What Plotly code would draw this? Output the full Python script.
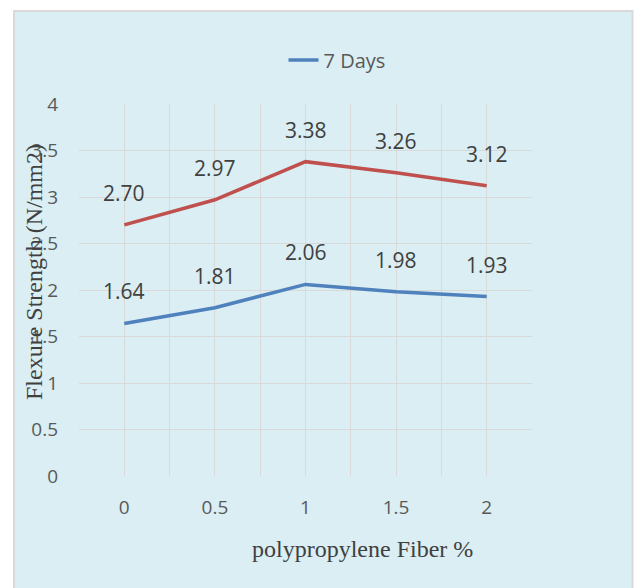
import plotly.graph_objects as go

fiber = [0, 0.5, 1, 1.5, 2]
days7 = [1.64, 1.81, 2.06, 1.98, 1.93]
days28 = [2.70, 2.97, 3.38, 3.26, 3.12]
xticks = [0, 0.5, 1, 1.5, 2]
yticks = [0, 0.5, 1, 1.5, 2, 2.5, 3, 3.5, 4]
ytick_text = ["0", "0.5", "1", "1.5", "2", "2.5", "3", "3.5", "4"]

BG = "#DAEEF3"
GRID = "#D9D9D9"
SANS = "Open Sans, Lato, sans-serif"
SERIF = "Liberation Serif, Times New Roman, serif"

W, H = 635, 588
L, R, T, B = 79, 103, 104, 112
pw, ph = W - L - R, H - T - B

def px(x):
    return (x - L) / pw

def py(y):
    return (H - B - y) / ph

fig = go.Figure()
fig.add_trace(go.Scatter(x=fiber, y=days28, mode="lines", name="28 Days",
                         line=dict(color="#C0504D", width=3.5), showlegend=False))
fig.add_trace(go.Scatter(x=fiber, y=days7, mode="lines", name="7 Days",
                         line=dict(color="#4F81BD", width=3.5)))

for series in (days7, days28):
    for xv, yv in zip(fiber, series):
        fig.add_annotation(x=xv, y=yv, text=f"{yv:.2f}", showarrow=False,
                           yshift=32, font=dict(family=SANS, size=21, color="#404040"))

fig.add_annotation(xref="paper", yref="paper", x=px(34), y=py(272),
                   xanchor="center", yanchor="middle",
                   text="Flexure Strength (N/mm2)", textangle=-90, showarrow=False,
                   font=dict(family=SERIF, size=24, color="#404040"))
fig.add_annotation(xref="paper", yref="paper", x=px(362), y=py(549),
                   xanchor="center", yanchor="middle",
                   text="polypropylene Fiber %", showarrow=False,
                   font=dict(family=SERIF, size=24, color="#404040"))

fig.add_shape(type="rect", xref="paper", yref="paper", layer="below",
              x0=px(14), x1=px(632.5), y0=py(620), y1=py(11),
              fillcolor=BG, line=dict(color="#D9D9D9", width=2))

fig.update_layout(
    width=W, height=H,
    margin=dict(l=L, r=R, t=T, b=B),
    paper_bgcolor="white",
    plot_bgcolor="rgba(0,0,0,0)",
    showlegend=True,
    legend=dict(orientation="h", x=px(337), xanchor="center", y=py(60), yanchor="middle",
                font=dict(family=SANS, size=20, color="#595959"),
                bgcolor="rgba(0,0,0,0)"),
    xaxis=dict(range=[-0.25, 2.25], tickvals=xticks, ticktext=[str(v) for v in xticks],
               showgrid=True, gridcolor=GRID, gridwidth=1, zeroline=False,
               showline=False, ticks="", ticklabelstandoff=18,
               tickfont=dict(family=SANS, size=19, color="#595959"),
               minor=dict(tickvals=[-0.25, 0.25, 0.75, 1.25, 1.75, 2.25],
                          showgrid=True, gridcolor=GRID, gridwidth=1)),
    yaxis=dict(range=[0, 4], tickvals=yticks, ticktext=ytick_text,
               showgrid=True, gridcolor=GRID, gridwidth=1, zeroline=False,
               showline=False, ticks="", ticklabelstandoff=20,
               tickfont=dict(family=SANS, size=19, color="#595959")),
)

fig.write_html("out.html")
